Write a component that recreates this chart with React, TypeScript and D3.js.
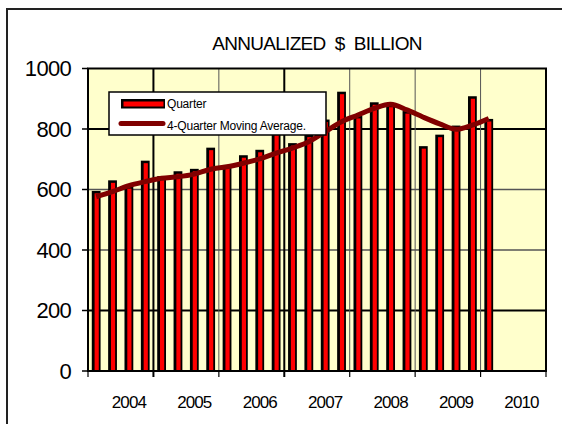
import React from "react";
import * as d3 from "d3";

const years = ["2004", "2005", "2006", "2007", "2008", "2009", "2010"];
const quarterValues = [592, 627, 608, 692, 641, 657, 665, 735, 678, 710, 728, 795, 750, 778, 828, 920, 840, 885, 877, 856, 740, 778, 808, 905, 830];
const movingAverage = [576, 593, 613, 626, 637, 642, 651, 667, 675, 687, 701, 720, 737, 758, 791, 824, 846, 868, 882, 863, 839, 817, 799, 813, 835];
const yTicks = [0, 200, 400, 600, 800, 1000];
const titleText = "ANNUALIZED  $  BILLION";
const legendLabels = ["Quarter", "4-Quarter Moving Average."];

const W = 562, H = 424;
const L = 88, R = 546, T = 68.5, B = 371;
const FONT = "'Liberation Sans', Arial, sans-serif";

export default function App() {
  const yearScale = d3.scaleBand<string>().domain(years).range([L, R]).padding(0);
  const qScale = d3.scaleBand<number>().domain(d3.range(years.length * 4)).range([L, R]).padding(0);
  const y = d3.scaleLinear().domain([0, 1000]).range([B, T]);
  const qc = (i: number) => (qScale(i) as number) + qScale.bandwidth() / 2;

  const line = d3.line<number>()
    .x((_, i) => qc(i))
    .y((d) => y(d))
    .curve(d3.curveCatmullRom.alpha(0.5));

  const boundaries = years.map((yr) => yearScale(yr) as number).concat([R]);

  return (
    <svg width={W} height={H} style={{ position: "absolute", left: 0, top: 0, background: "#fff" }}>
      <rect x={0} y={0} width={W} height={H} fill="#fff" />
      {/* outer frame */}
      <rect x={7} y={9} width={W + 20} height={H + 20} fill="none" stroke="#222" strokeWidth={2} />
      {/* title */}
      <text x={317} y={49.5} textAnchor="middle" fontFamily={FONT} fontSize={19} letterSpacing={-0.7} style={{ whiteSpace: "pre" }} fill="#000">
        {titleText}
      </text>
      {/* plot background */}
      <rect x={L} y={T} width={R - L} height={B - T} fill="#FFFFCC" />
      {/* horizontal gridlines */}
      {yTicks.filter((t) => t > 0 && t < 1000).map((t) => (
        <line key={"h" + t} x1={L} x2={R} y1={y(t)} y2={y(t)}
          stroke={t === 200 || t === 800 ? "#000" : "#555"} strokeWidth={t === 200 || t === 800 ? 2 : 1.5} />
      ))}
      {/* vertical gridlines */}
      {boundaries.slice(1, -1).map((bx, i) => (
        <line key={"v" + i} x1={bx} x2={bx} y1={T} y2={B}
          stroke={i === 0 || i === 2 ? "#000" : "#555"} strokeWidth={i === 0 || i === 2 ? 2 : 1} />
      ))}
      {/* bars */}
      {quarterValues.map((v, i) => {
        const c = qc(i);
        const top = y(v);
        return (
          <g key={"b" + i}>
            <rect x={c - 4.4} y={top - 1} width={8.8} height={B - top + 1} fill="#000" />
            <rect x={c - 1.6} y={top + 1.5} width={4.2} height={B - top - 1.5} fill="#FF0000" />
          </g>
        );
      })}
      {/* moving average line */}
      <path d={line(movingAverage) || ""} fill="none" stroke="#800000" strokeWidth={5} strokeLinejoin="round" />
      {/* plot border */}
      <rect x={L} y={T} width={R - L} height={B - T} fill="none" stroke="#000" strokeWidth={2} />
      {/* y ticks & labels */}
      {yTicks.map((t) => (
        <g key={"yt" + t}>
          <line x1={L - 6} x2={L} y1={y(t)} y2={y(t)} stroke="#000" strokeWidth={1.5} />
          <text x={71} y={y(t)} dy="0.36em" textAnchor="end" fontFamily={FONT} fontSize={22} letterSpacing={-0.7} fill="#000">
            {t}
          </text>
        </g>
      ))}
      {/* x ticks */}
      {boundaries.map((bx, i) => (
        <line key={"xt" + i} x1={bx} x2={bx} y1={B} y2={B + 6} stroke="#000" strokeWidth={i === 1 || i === 3 ? 2 : 1.2} />
      ))}
      {/* x labels */}
      {years.map((yr, k) => (
        <text key={"xl" + yr} x={qc(k * 4 + 2)} y={408} textAnchor="middle" fontFamily={FONT} fontSize={17} letterSpacing={-0.9} fill="#000">
          {yr}
        </text>
      ))}
      {/* legend */}
      <rect x={109} y={92} width={217} height={43} fill="#fff" stroke="#000" strokeWidth={1.5} />
      <rect x={121} y={99} width={44} height={9.5} fill="#000" />
      <rect x={123.5} y={101.5} width={40} height={5} fill="#FF0000" />
      <text x={167} y={108} fontFamily={FONT} fontSize={12} letterSpacing={-0.2} fill="#000">{legendLabels[0]}</text>
      <line x1={121} x2={163} y1={123.5} y2={123.5} stroke="#800000" strokeWidth={5} strokeLinecap="round" />
      <text x={167} y={129.5} fontFamily={FONT} fontSize={12} letterSpacing={-0.2} fill="#000">{legendLabels[1]}</text>
    </svg>
  );
}
